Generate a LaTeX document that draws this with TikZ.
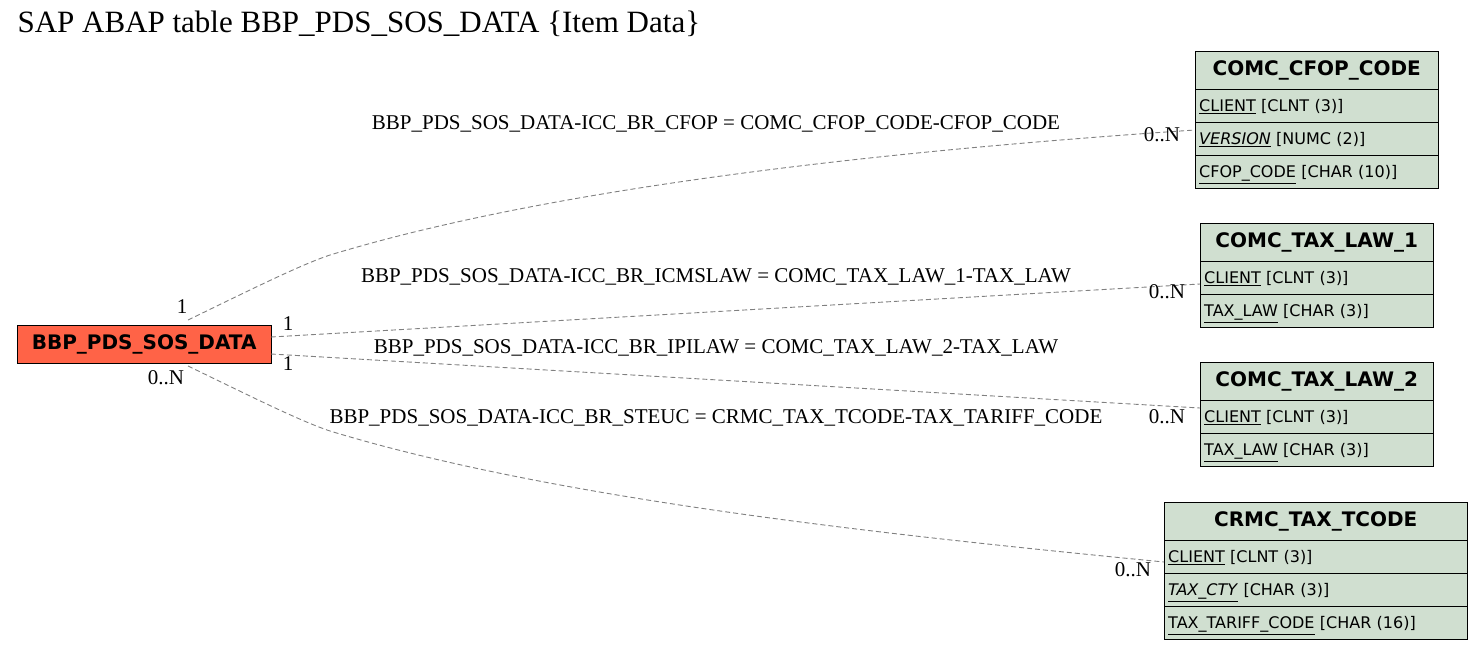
\documentclass[tikz,border=0pt]{standalone}
\usepackage{fontspec}
\setmainfont{Liberation Serif}
\newfontfamily\tabfont{DejaVu Sans}
\begin{document}
\begin{tikzpicture}[x=1pt,y=-1pt,
  hdr/.style={draw,fill=tabgreen,anchor=north west,inner sep=0pt,font=\tabfont\bfseries\fontsize{20}{24}\selectfont,align=center},
  row/.style={draw,fill=tabgreen,anchor=north west,inner sep=0pt,text depth=0pt,font=\tabfont\fontsize{16}{19}\selectfont,align=left,text height=12pt},
  rel/.style={draw=gray,line width=0.9pt,dash pattern=on 5pt off 3pt},
  lbl/.style={font=\fontsize{21}{24}\selectfont}]
\definecolor{tabgreen}{HTML}{D0DFD0}
\definecolor{maincol}{HTML}{FF6347}
\useasboundingbox (0,0) rectangle (1484,649);
\node[anchor=west,font=\fontsize{31}{34}\selectfont] at (14,24) {SAP ABAP table BBP\_PDS\_SOS\_DATA \{Item Data\}};
% main
\node[hdr,fill=maincol,minimum width=254pt,minimum height=38pt] (m) at (17,325) {BBP\_PDS\_SOS\_DATA};
% table 1
\node[hdr,minimum width=243pt,minimum height=38pt] (a) at (1195,51) {COMC\_CFOP\_CODE};
\node[row,minimum width=243pt,minimum height=33pt,text width=235pt] (a1) at (1195,89) {\underline{CLIENT} [CLNT (3)]};
\node[row,minimum width=243pt,minimum height=33pt,text width=235pt] (a2) at (1195,122) {\underline{\textit{VERSION}} [NUMC (2)]};
\node[row,minimum width=243pt,minimum height=33pt,text width=235pt] (a3) at (1195,155) {\underline{CFOP\_CODE} [CHAR (10)]};
% table 2
\node[hdr,minimum width=233pt,minimum height=38pt] (b) at (1200,223) {COMC\_TAX\_LAW\_1};
\node[row,minimum width=233pt,minimum height=33pt,text width=225pt] (b1) at (1200,261) {\underline{CLIENT} [CLNT (3)]};
\node[row,minimum width=233pt,minimum height=33pt,text width=225pt] (b2) at (1200,294) {\underline{TAX\_LAW} [CHAR (3)]};
% table 3
\node[hdr,minimum width=233pt,minimum height=38pt] (c) at (1200,362) {COMC\_TAX\_LAW\_2};
\node[row,minimum width=233pt,minimum height=33pt,text width=225pt] (c1) at (1200,400) {\underline{CLIENT} [CLNT (3)]};
\node[row,minimum width=233pt,minimum height=33pt,text width=225pt] (c2) at (1200,433) {\underline{TAX\_LAW} [CHAR (3)]};
% table 4
\node[hdr,minimum width=303pt,minimum height=38pt] (d) at (1164,502) {CRMC\_TAX\_TCODE};
\node[row,minimum width=303pt,minimum height=33pt,text width=295pt] (d1) at (1164,540) {\underline{CLIENT} [CLNT (3)]};
\node[row,minimum width=303pt,minimum height=33pt,text width=295pt] (d2) at (1164,573) {\underline{\textit{TAX\_CTY}} [CHAR (3)]};
\node[row,minimum width=303pt,minimum height=33pt,text width=295pt] (d3) at (1164,606) {\underline{TAX\_TARIFF\_CODE} [CHAR (16)]};
% coordinates
\coordinate (s1) at (188,320);
\coordinate (t1) at (1195,130);
\coordinate (s2) at (271,337);
\coordinate (t2) at (1200,284);
\coordinate (s3) at (271,354);
\coordinate (t3) at (1200,408);
\coordinate (s4) at (188,366);
\coordinate (t4) at (1164,562);
\draw[rel] (s1) .. controls (250,290) and (300,265) .. (330,255) .. controls (560,185) and (900,150) .. (t1);
\draw[rel] (s2) -- (t2);
\draw[rel] (s3) -- (t3);
\draw[rel] (s4) .. controls (250,396) and (300,421) .. (330,431) .. controls (560,501) and (900,536) .. (t4);
\node[lbl] at (716,124) {BBP\_PDS\_SOS\_DATA-ICC\_BR\_CFOP = COMC\_CFOP\_CODE-CFOP\_CODE};
\node[lbl] at (716,277) {BBP\_PDS\_SOS\_DATA-ICC\_BR\_ICMSLAW = COMC\_TAX\_LAW\_1-TAX\_LAW};
\node[lbl] at (716,348) {BBP\_PDS\_SOS\_DATA-ICC\_BR\_IPILAW = COMC\_TAX\_LAW\_2-TAX\_LAW};
\node[lbl] at (716,418) {BBP\_PDS\_SOS\_DATA-ICC\_BR\_STEUC = CRMC\_TAX\_TCODE-TAX\_TARIFF\_CODE};
\node[lbl] at (182,307) {1};
\node[lbl] at (1162,135) {0..N};
\node[lbl] at (288,324) {1};
\node[lbl] at (1167,292) {0..N};
\node[lbl] at (288,364) {1};
\node[lbl] at (1167,417) {0..N};
\node[lbl] at (166,378) {0..N};
\node[lbl] at (1133,570) {0..N};
\end{tikzpicture}
\end{document}
